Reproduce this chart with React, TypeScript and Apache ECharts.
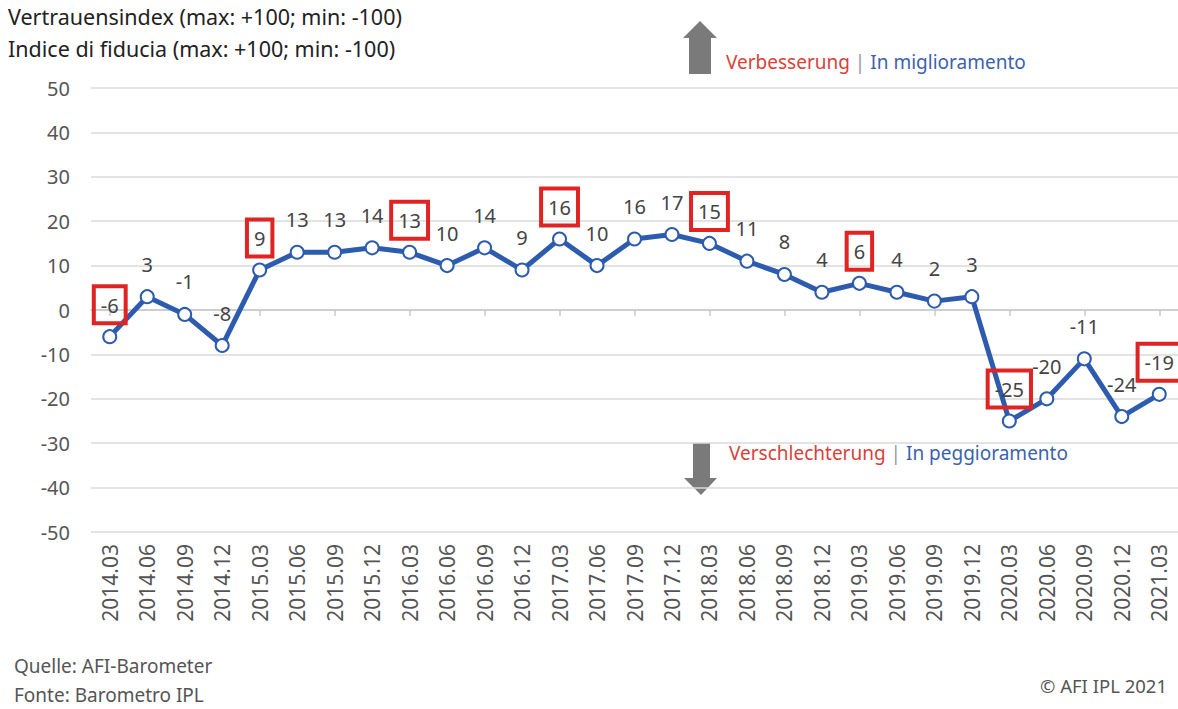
import React, { useEffect, useRef } from "react";
import * as echarts from "echarts";

const categories = [
  "2014.03", "2014.06", "2014.09", "2014.12",
  "2015.03", "2015.06", "2015.09", "2015.12",
  "2016.03", "2016.06", "2016.09", "2016.12",
  "2017.03", "2017.06", "2017.09", "2017.12",
  "2018.03", "2018.06", "2018.09", "2018.12",
  "2019.03", "2019.06", "2019.09", "2019.12",
  "2020.03", "2020.06", "2020.09", "2020.12",
  "2021.03",
];
const values = [
  -6, 3, -1, -8,
  9, 13, 13, 14,
  13, 10, 14, 9,
  16, 10, 16, 17,
  15, 11, 8, 4,
  6, 4, 2, 3,
  -25, -20, -11, -24,
  -19,
];
const yTicks = { min: -50, max: 50, interval: 10 };
const titleLines = [
  "Vertrauensindex (max: +100; min: -100)",
  "Indice di fiducia (max: +100; min: -100)",
];
const upText = ["Verbesserung", "In miglioramento"];
const downText = ["Verschlechterung", "In peggioramento"];
const sourceLines = ["Quelle: AFI-Barometer", "Fonte: Barometro IPL"];
const copyright = "© AFI IPL 2021";

const FONT = "'Source Sans Pro', 'Noto Sans', Lato, sans-serif";
const BLUE = "#2d5cae";
const RED = "#e02424";

export default function App() {
  const ref = useRef<HTMLDivElement>(null);
  useEffect(() => {
    document.body.style.margin = "0";
    const chart = echarts.init(ref.current!, null, { renderer: "svg" });
    const data = values.map((v, i) => {
      const boxed = categories[i].endsWith(".03");
      return boxed
        ? {
            value: v,
            label: {
              borderColor: RED,
              borderWidth: 4,
              padding: [9, 7, 8, 7],
              distance: 6,
            },
          }
        : { value: v };
    });
    const richMid = (t: string[]) => ({
      text: "{r|" + t[0] + "}{g| | }{b|" + t[1] + "}",
      fontFamily: FONT,
      rich: {
        r: { fontSize: 19, fill: "#d9413a", fontFamily: FONT },
        g: { fontSize: 19, fill: "#999", fontFamily: FONT },
        b: { fontSize: 19, fill: "#3b62ad", fontFamily: FONT },
      },
    });
    chart.setOption({
      animation: false,
      backgroundColor: "#ffffff",
      textStyle: { fontFamily: FONT },
      grid: { left: 91, right: 0, top: 88, bottom: 177, containLabel: false },
      xAxis: [
        {
          type: "category",
          data: categories,
          boundaryGap: true,
          position: "bottom",
          axisLine: { show: false, onZero: false },
          axisTick: { show: false },
          axisLabel: {
            rotate: 90,
            margin: 12,
            fontSize: 21,
            color: "#555",
            fontFamily: FONT,
          },
        },
        {
          type: "category",
          data: categories,
          boundaryGap: true,
          position: "bottom",
          axisLine: { show: true, onZero: true, lineStyle: { color: "#c8c8c8", width: 1.5 } },
          axisTick: { show: true, alignWithLabel: true, length: 6, lineStyle: { color: "#c8c8c8", width: 1.5 } },
          axisLabel: { show: false },
        },
      ],
      yAxis: {
        type: "value",
        min: yTicks.min,
        max: yTicks.max,
        interval: yTicks.interval,
        axisLine: { show: false },
        axisTick: { show: false },
        axisLabel: { fontSize: 20, color: "#555", margin: 21, fontFamily: FONT },
        splitLine: { lineStyle: { color: "#dadada", width: 1.5 } },
      },
      series: [
        {
          type: "line",
          xAxisIndex: 0,
          data,
          symbol: "circle",
          symbolSize: 13,
          itemStyle: { color: "#ffffff", borderColor: BLUE, borderWidth: 2 },
          lineStyle: { color: BLUE, width: 5 },
          label: {
            show: true,
            position: "top",
            distance: 15,
            fontSize: 20,
            color: "#444",
            fontFamily: FONT,
          },
          z: 3,
        },
      ],
      graphic: [
        {
          type: "text",
          left: 8,
          top: 5,
          style: { text: titleLines[0], fontSize: 21.5, fill: "#222", fontFamily: FONT },
        },
        {
          type: "text",
          left: 8,
          top: 37,
          style: { text: titleLines[1], fontSize: 21.5, fill: "#222", fontFamily: FONT },
        },
        {
          type: "polygon",
          shape: {
            points: [
              [700, 21], [717, 38], [711, 38], [711, 74], [689, 74], [689, 38], [683, 38],
            ],
          },
          style: { fill: "#7a7a7a" },
        },
        { type: "text", x: 726, y: 52, style: richMid(upText) },
        {
          type: "polygon",
          shape: {
            points: [
              [693, 443], [710, 443], [710, 478], [717, 478], [701, 495], [684, 478], [693, 478],
            ],
          },
          style: { fill: "#7a7a7a" },
        },
        { type: "text", x: 729, y: 443, style: richMid(downText) },
        {
          type: "text",
          left: 14,
          top: 656,
          style: { text: sourceLines[0], fontSize: 19, fill: "#555", fontFamily: FONT },
        },
        {
          type: "text",
          left: 14,
          top: 685,
          style: { text: sourceLines[1], fontSize: 19, fill: "#555", fontFamily: FONT },
        },
        {
          type: "text",
          right: 11,
          top: 676,
          style: { text: copyright, fontSize: 18.5, fill: "#555", fontFamily: FONT },
        },
      ],
    });
    return () => chart.dispose();
  }, []);
  return <div ref={ref} style={{ width: 1178, height: 709 }} />;
}
